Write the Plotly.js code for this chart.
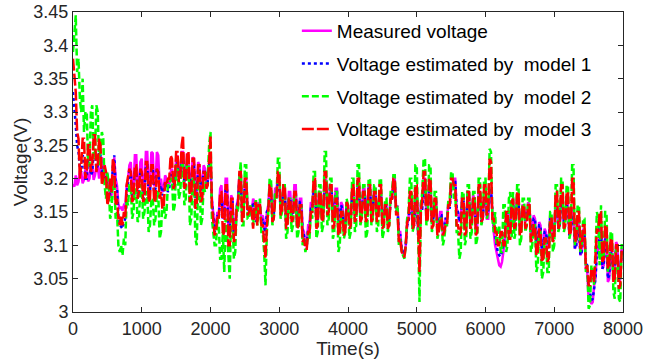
<!DOCTYPE html>
<html>
<head>
<meta charset="utf-8">
<script src="https://cdn.plot.ly/plotly-3.0.1.min.js"></script>
<style>html,body{margin:0;padding:0;background:#fff}#chart{width:662px;height:359px}</style>
</head>
<body>
<div id="chart"></div>
<script>
// Sample interval of the series (s)
const sampleStep = 20;

const seriesNames = ["Measured voltage", "Voltage estimated by  model 1", "Voltage estimated by  model 2", "Voltage estimated by  model 3"];

const measured = [
3.192,3.188,3.205,3.19,3.195,3.212,3.21,3.193,3.198,3.214,3.215,3.196,3.2,3.222,3.22,3.198,3.205,3.219,3.218,3.2,
3.215,3.232,3.225,3.198,3.2,3.208,3.19,3.172,3.175,3.21,3.232,3.2,3.19,3.162,3.155,3.158,3.152,3.16,3.158,3.19,
3.2,3.22,3.225,3.18,3.185,3.235,3.235,3.185,3.19,3.225,3.23,3.18,3.185,3.24,3.24,3.185,3.19,3.24,3.238,3.19,
3.19,3.24,3.235,3.19,3.2,3.18,3.185,3.205,3.2,3.185,3.19,3.21,3.215,3.195,3.2,3.23,3.235,3.2,3.205,3.24,
3.24,3.195,3.2,3.238,3.235,3.185,3.19,3.232,3.23,3.175,3.18,3.225,3.22,3.185,3.19,3.22,3.215,3.19,3.2,3.225,
3.23,3.17,3.15,3.125,3.13,3.15,3.145,3.185,3.19,3.14,3.15,3.2,3.2,3.125,3.13,3.175,3.17,3.115,3.12,3.16,
3.17,3.205,3.21,3.15,3.15,3.2,3.2,3.155,3.16,3.145,3.15,3.17,3.165,3.14,3.14,3.165,3.16,3.14,3.145,3.13,
3.12,3.15,3.16,3.19,3.19,3.145,3.15,3.185,3.185,3.2,3.2,3.155,3.16,3.19,3.19,3.135,3.14,3.18,3.18,3.145,
3.15,3.19,3.19,3.135,3.14,3.17,3.17,3.125,3.12,3.1,3.1,3.13,3.13,3.165,3.16,3.19,3.19,3.135,3.14,3.18,
3.18,3.145,3.15,3.195,3.2,3.155,3.16,3.19,3.19,3.145,3.15,3.185,3.185,3.135,3.14,3.165,3.16,3.125,3.13,3.165,
3.16,3.135,3.14,3.18,3.18,3.145,3.15,3.19,3.19,3.145,3.15,3.185,3.185,3.15,3.155,3.19,3.19,3.145,3.15,3.185,
3.185,3.145,3.15,3.18,3.18,3.135,3.14,3.165,3.16,3.135,3.14,3.175,3.17,3.2,3.2,3.155,3.16,3.12,3.12,3.095,
3.09,3.085,3.1,3.13,3.14,3.175,3.17,3.125,3.13,3.18,3.18,3.115,3.12,3.165,3.16,3.2,3.2,3.145,3.15,3.19,
3.19,3.135,3.14,3.17,3.17,3.125,3.13,3.15,3.15,3.115,3.12,3.14,3.14,3.165,3.16,3.19,3.19,3.2,3.2,3.155,
3.15,3.135,3.14,3.175,3.17,3.125,3.13,3.18,3.18,3.135,3.14,3.175,3.17,3.125,3.13,3.18,3.18,3.135,3.14,3.17,
3.17,3.14,3.14,3.18,3.18,3.14,3.12,3.1,3.09,3.075,3.07,3.068,3.075,3.09,3.11,3.145,3.15,3.12,3.13,3.165,
3.17,3.135,3.14,3.175,3.17,3.125,3.13,3.16,3.16,3.135,3.14,3.165,3.16,3.115,3.12,3.145,3.14,3.095,3.1,3.135,
3.13,3.085,3.09,3.125,3.12,3.095,3.1,3.145,3.14,3.115,3.12,3.165,3.16,3.125,3.13,3.175,3.17,3.135,3.14,3.165,
3.16,3.115,3.12,3.155,3.15,3.095,3.1,3.135,3.13,3.085,3.09,3.125,3.12,3.065,3.06,3.02,3.02,3.012,3.015,3.04,
3.05,3.095,3.09,3.135,3.13,3.065,3.07,3.115,3.11,3.045,3.05,3.095,3.09,3.055,3.06,3.105,3.1,3.045,3.05,3.095,
3.09
];

const model1 = [
3.33,3.31,3.28,3.25,3.24,3.215,3.21,3.235,3.23,3.2,3.2,3.235,3.235,3.205,3.21,3.24,3.24,3.215,3.22,3.24,
3.235,3.21,3.215,3.2,3.205,3.185,3.19,3.175,3.18,3.22,3.235,3.19,3.185,3.145,3.13,3.128,3.125,3.135,3.14,3.175,
3.19,3.21,3.21,3.17,3.175,3.215,3.215,3.175,3.18,3.21,3.21,3.17,3.175,3.22,3.22,3.175,3.18,3.215,3.215,3.18,
3.185,3.215,3.21,3.185,3.19,3.175,3.18,3.195,3.19,3.18,3.185,3.205,3.205,3.19,3.195,3.22,3.225,3.195,3.2,3.235,
3.235,3.19,3.195,3.225,3.225,3.18,3.185,3.22,3.22,3.17,3.175,3.215,3.215,3.18,3.185,3.21,3.21,3.19,3.195,3.22,
3.225,3.165,3.145,3.12,3.125,3.145,3.14,3.17,3.175,3.14,3.145,3.185,3.185,3.12,3.125,3.165,3.165,3.11,3.115,3.155,
3.165,3.2,3.2,3.145,3.145,3.19,3.19,3.15,3.155,3.145,3.15,3.165,3.16,3.135,3.14,3.16,3.155,3.135,3.14,3.125,
3.115,3.15,3.155,3.18,3.18,3.14,3.145,3.175,3.175,3.195,3.195,3.15,3.155,3.18,3.18,3.13,3.135,3.17,3.17,3.14,
3.145,3.18,3.18,3.13,3.135,3.165,3.165,3.12,3.115,3.1,3.1,3.125,3.125,3.155,3.155,3.18,3.18,3.135,3.14,3.175,
3.175,3.145,3.15,3.19,3.19,3.155,3.16,3.185,3.185,3.145,3.15,3.18,3.18,3.135,3.14,3.16,3.155,3.125,3.13,3.16,
3.155,3.135,3.14,3.175,3.175,3.145,3.15,3.185,3.185,3.145,3.15,3.18,3.18,3.15,3.155,3.185,3.185,3.145,3.15,3.18,
3.18,3.145,3.15,3.175,3.175,3.135,3.14,3.16,3.155,3.135,3.14,3.165,3.165,3.195,3.195,3.15,3.155,3.115,3.115,3.095,
3.09,3.088,3.1,3.13,3.135,3.165,3.165,3.125,3.13,3.175,3.175,3.115,3.12,3.155,3.155,3.19,3.19,3.145,3.15,3.185,
3.185,3.135,3.14,3.165,3.165,3.125,3.13,3.145,3.145,3.12,3.125,3.14,3.14,3.16,3.155,3.185,3.185,3.195,3.195,3.155,
3.15,3.135,3.14,3.165,3.165,3.13,3.135,3.175,3.175,3.135,3.14,3.165,3.165,3.13,3.135,3.175,3.175,3.135,3.14,3.17,
3.17,3.145,3.15,3.185,3.185,3.15,3.13,3.11,3.1,3.09,3.085,3.083,3.09,3.1,3.115,3.145,3.15,3.125,3.13,3.16,
3.165,3.135,3.14,3.165,3.165,3.125,3.13,3.155,3.155,3.135,3.14,3.155,3.155,3.12,3.125,3.14,3.14,3.105,3.11,3.13,
3.13,3.095,3.1,3.12,3.12,3.1,3.105,3.14,3.14,3.115,3.12,3.155,3.155,3.125,3.13,3.165,3.165,3.135,3.14,3.16,
3.155,3.115,3.12,3.145,3.145,3.095,3.1,3.125,3.125,3.085,3.09,3.115,3.115,3.075,3.07,3.035,3.03,3.018,3.02,3.04,
3.05,3.09,3.085,3.13,3.125,3.065,3.07,3.11,3.105,3.05,3.055,3.09,3.085,3.055,3.06,3.1,3.095,3.05,3.055,3.09,
3.09
];

const model2 = [
3.39,3.42,3.445,3.36,3.38,3.32,3.3,3.35,3.27,3.3,3.3,3.22,3.22,3.3,3.31,3.23,3.24,3.31,3.3,3.22,
3.24,3.27,3.26,3.19,3.17,3.21,3.19,3.14,3.15,3.2,3.2,3.14,3.15,3.1,3.09,3.1,3.085,3.11,3.1,3.17,
3.16,3.19,3.19,3.14,3.15,3.185,3.18,3.135,3.14,3.19,3.19,3.14,3.15,3.18,3.18,3.12,3.13,3.17,3.17,3.13,
3.14,3.18,3.18,3.11,3.12,3.165,3.16,3.14,3.15,3.19,3.19,3.2,3.2,3.15,3.16,3.22,3.22,3.17,3.18,3.22,
3.22,3.16,3.17,3.23,3.23,3.13,3.14,3.2,3.2,3.11,3.1,3.2,3.2,3.13,3.14,3.19,3.18,3.21,3.2,3.25,
3.27,3.14,3.12,3.1,3.1,3.14,3.13,3.08,3.08,3.12,3.06,3.14,3.12,3.08,3.05,3.15,3.14,3.08,3.09,3.16,
3.15,3.2,3.225,3.13,3.13,3.22,3.22,3.14,3.14,3.16,3.15,3.13,3.15,3.17,3.13,3.16,3.17,3.12,3.12,3.09,
3.04,3.12,3.15,3.2,3.2,3.13,3.14,3.18,3.17,3.23,3.23,3.14,3.15,3.19,3.19,3.11,3.12,3.17,3.17,3.12,
3.13,3.18,3.18,3.11,3.12,3.16,3.16,3.1,3.11,3.09,3.1,3.12,3.11,3.15,3.14,3.21,3.21,3.11,3.12,3.19,
3.19,3.12,3.13,3.24,3.24,3.13,3.14,3.2,3.2,3.11,3.12,3.18,3.18,3.09,3.1,3.15,3.15,3.11,3.12,3.17,
3.16,3.11,3.12,3.2,3.2,3.12,3.13,3.22,3.22,3.13,3.14,3.19,3.19,3.11,3.12,3.2,3.2,3.13,3.14,3.19,
3.19,3.12,3.13,3.2,3.2,3.11,3.12,3.17,3.17,3.12,3.13,3.18,3.18,3.205,3.205,3.15,3.16,3.1,3.11,3.09,
3.085,3.08,3.1,3.14,3.15,3.2,3.2,3.12,3.13,3.22,3.22,3.1,3.015,3.16,3.18,3.23,3.23,3.13,3.14,3.22,
3.22,3.12,3.13,3.18,3.18,3.11,3.12,3.14,3.14,3.1,3.11,3.13,3.13,3.17,3.17,3.21,3.21,3.17,3.18,3.12,
3.12,3.08,3.09,3.18,3.18,3.1,3.11,3.19,3.19,3.11,3.12,3.18,3.18,3.1,3.11,3.2,3.2,3.13,3.14,3.2,
3.2,3.14,3.15,3.245,3.24,3.14,3.12,3.15,3.1,3.12,3.13,3.09,3.09,3.16,3.16,3.09,3.1,3.17,3.18,3.11,
3.18,3.11,3.12,3.19,3.19,3.1,3.11,3.17,3.17,3.12,3.13,3.17,3.17,3.09,3.1,3.13,3.13,3.06,3.07,3.12,
3.12,3.05,3.06,3.11,3.11,3.06,3.06,3.15,3.15,3.09,3.1,3.19,3.19,3.12,3.13,3.2,3.2,3.12,3.13,3.19,
3.19,3.11,3.12,3.22,3.22,3.1,3.11,3.16,3.16,3.09,3.1,3.14,3.14,3.06,3.07,3.005,3.01,3.07,3.06,3.04,
3.09,3.15,3.14,3.07,3.16,3.08,3.08,3.15,3.15,3.06,3.07,3.12,3.12,3.03,3.02,3.1,3.1,3.02,3.015,3.1,
3.1
];

const model3 = [
3.38,3.35,3.33,3.27,3.26,3.2,3.22,3.26,3.26,3.2,3.21,3.25,3.25,3.21,3.22,3.265,3.265,3.21,3.22,3.26,
3.25,3.19,3.2,3.22,3.21,3.16,3.17,3.2,3.18,3.23,3.22,3.16,3.17,3.14,3.13,3.145,3.13,3.15,3.14,3.19,
3.2,3.215,3.21,3.165,3.17,3.22,3.22,3.17,3.18,3.215,3.21,3.165,3.17,3.225,3.225,3.165,3.17,3.22,3.22,3.165,
3.17,3.215,3.21,3.17,3.18,3.155,3.16,3.195,3.19,3.2,3.2,3.235,3.23,3.185,3.19,3.24,3.24,3.195,3.2,3.25,
3.265,3.185,3.19,3.24,3.24,3.165,3.17,3.23,3.23,3.155,3.16,3.22,3.22,3.165,3.17,3.21,3.21,3.185,3.19,3.24,
3.265,3.16,3.14,3.115,3.12,3.145,3.14,3.18,3.18,3.115,3.12,3.19,3.19,3.1,3.1,3.17,3.17,3.105,3.11,3.155,
3.16,3.21,3.21,3.135,3.14,3.2,3.2,3.145,3.15,3.16,3.15,3.125,3.16,3.165,3.13,3.16,3.16,3.13,3.13,3.11,
3.08,3.13,3.15,3.19,3.19,3.135,3.14,3.17,3.17,3.21,3.21,3.145,3.15,3.19,3.19,3.125,3.13,3.17,3.17,3.135,
3.14,3.18,3.18,3.125,3.13,3.16,3.16,3.105,3.11,3.095,3.095,3.12,3.12,3.15,3.15,3.2,3.2,3.125,3.13,3.18,
3.18,3.135,3.14,3.21,3.21,3.145,3.15,3.19,3.19,3.125,3.13,3.17,3.17,3.115,3.12,3.15,3.15,3.115,3.12,3.165,
3.16,3.125,3.13,3.19,3.19,3.135,3.14,3.2,3.2,3.135,3.14,3.18,3.18,3.135,3.14,3.19,3.19,3.135,3.14,3.18,
3.18,3.135,3.14,3.19,3.19,3.125,3.13,3.16,3.16,3.125,3.13,3.17,3.17,3.2,3.2,3.145,3.15,3.105,3.11,3.09,
3.085,3.082,3.1,3.135,3.14,3.18,3.18,3.125,3.13,3.19,3.19,3.11,3.06,3.15,3.17,3.21,3.21,3.135,3.14,3.2,
3.2,3.125,3.13,3.17,3.17,3.115,3.12,3.14,3.14,3.115,3.12,3.13,3.13,3.16,3.16,3.2,3.2,3.19,3.19,3.13,
3.13,3.115,3.12,3.17,3.17,3.115,3.12,3.18,3.18,3.125,3.13,3.17,3.17,3.115,3.12,3.19,3.19,3.135,3.14,3.19,
3.19,3.145,3.15,3.23,3.225,3.14,3.14,3.12,3.12,3.1,3.1,3.12,3.12,3.1,3.1,3.15,3.15,3.11,3.11,3.165,
3.17,3.125,3.13,3.18,3.18,3.115,3.12,3.16,3.16,3.125,3.13,3.16,3.16,3.105,3.11,3.13,3.13,3.085,3.09,3.125,
3.12,3.075,3.08,3.11,3.11,3.075,3.08,3.14,3.14,3.105,3.11,3.18,3.18,3.125,3.13,3.19,3.19,3.125,3.13,3.18,
3.18,3.115,3.12,3.2,3.2,3.105,3.11,3.15,3.15,3.095,3.1,3.13,3.13,3.065,3.07,3.04,3.04,3.065,3.06,3.045,
3.08,3.125,3.12,3.15,3.15,3.075,3.08,3.13,3.13,3.065,3.07,3.11,3.11,3.045,3.05,3.1,3.1,3.035,3.04,3.09,
3.09
];

const time = measured.map((_, i) => i * sampleStep);

const font = "Liberation Sans, Arial, sans-serif";
const axisColor = "#262626";

const traces = [
  {x: time, y: measured, name: seriesNames[0], type: "scatter", mode: "lines", legendgroup: "a",
   line: {color: "#ff00ff", width: 2.5}},
  {x: time, y: model1, name: seriesNames[1], type: "scatter", mode: "lines", legendgroup: "b",
   line: {color: "#0000ff", width: 2.5, dash: "dot"}},
  {x: time, y: model2, name: seriesNames[2], type: "scatter", mode: "lines", legendgroup: "c",
   line: {color: "#00ff00", width: 2.5, dash: "7px,3px"}},
  {x: time, y: model3, name: seriesNames[3], type: "scatter", mode: "lines", legendgroup: "d",
   line: {color: "#ff0000", width: 2.5, dash: "12px,3px"}}
];

const layout = {
  width: 662, height: 359,
  margin: {l: 73, r: 39, t: 12, b: 47, pad: 0},
  paper_bgcolor: "#fff", plot_bgcolor: "#fff",
  font: {family: font, size: 18, color: axisColor},
  showlegend: true,
  legend: {x: 0.407, y: 1.0, xanchor: "left", yanchor: "top", bgcolor: "rgba(0,0,0,0)",
           font: {family: font, size: 19, color: "#000"}, tracegroupgap: 5, borderwidth: 0},
  xaxis: {range: [0, 8000], dtick: 1000, tick0: 0, showgrid: false, zeroline: false,
          showline: true, linecolor: axisColor, linewidth: 1, mirror: "ticks",
          ticks: "inside", ticklen: 5, tickcolor: axisColor,
          tickfont: {family: font, size: 18, color: axisColor},
          title: {text: "Time(s)", font: {family: font, size: 19, color: axisColor}, standoff: 1}},
  yaxis: {range: [3, 3.45], dtick: 0.05, tick0: 3, showgrid: false, zeroline: false,
          showline: true, linecolor: axisColor, linewidth: 1, mirror: "ticks",
          ticks: "inside", ticklen: 5, tickcolor: axisColor,
          tickfont: {family: font, size: 18, color: axisColor},
          title: {text: "Voltage(V)", font: {family: font, size: 19, color: axisColor}, standoff: 0}}
};

Plotly.newPlot("chart", traces, layout, {displayModeBar: false, staticPlot: true});
</script>
</body>
</html>
